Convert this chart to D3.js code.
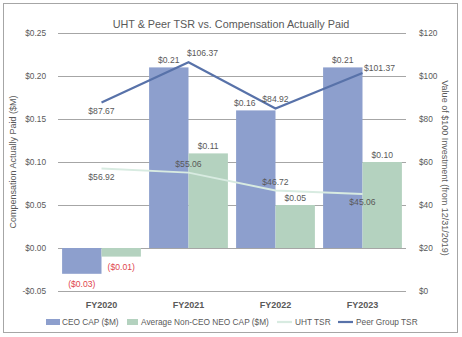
<!DOCTYPE html>
<html>
<head>
<meta charset="utf-8">
<script src="https://cdn.jsdelivr.net/npm/d3@7"></script>
<style>
  body { margin: 0; background: #fff; }
  text { font-family: "Liberation Sans", Arial, sans-serif; }
</style>
</head>
<body>
<div id="chart"></div>
<script>
const years = ["FY2020", "FY2021", "FY2022", "FY2023"];
const ceoCap = [-0.03, 0.21, 0.16, 0.21];
const neoCap = [-0.01, 0.11, 0.05, 0.10];
const uhtTsr = [56.92, 55.06, 46.72, 45.06];
const peerTsr = [87.67, 106.37, 84.92, 101.37];
const leftTicks = [-0.05, 0, 0.05, 0.10, 0.15, 0.20, 0.25];
const rightTicks = [0, 20, 40, 60, 80, 100, 120];

const W = 462, H = 337;
const m = { left: 58, right: 56, top: 33, bottom: 46 };
const txt = "#595959";

const svg = d3.select("#chart").append("svg")
  .attr("width", W).attr("height", H);

// border
svg.append("rect")
  .attr("x", 3.5).attr("y", 3.5).attr("width", 454).attr("height", 329)
  .attr("fill", "#fff").attr("stroke", "#a6a6a6").attr("stroke-width", 1);

const x = d3.scaleBand().domain(years).range([m.left, W - m.right]).paddingInner(0).paddingOuter(0);
const yL = d3.scaleLinear().domain([-0.05, 0.25]).range([H - m.bottom, m.top]);
const yR = d3.scaleLinear().domain([0, 120]).range([H - m.bottom, m.top]);
const fmtM = v => v < 0 ? "($" + Math.abs(v).toFixed(2) + ")" : "$" + v.toFixed(2);
const fmtL = v => (v < 0 ? "-$" : "$") + Math.abs(v).toFixed(2);

// gridlines
svg.append("g").selectAll("line").data(leftTicks).join("line")
  .attr("x1", m.left).attr("x2", W - m.right)
  .attr("y1", d => Math.round(yL(d)) + 0.5).attr("y2", d => Math.round(yL(d)) + 0.5)
  .attr("stroke", "#a6a6a6").attr("stroke-width", 1);

// left axis
const axL = svg.append("g").attr("transform", `translate(${m.left - 9},0)`)
  .call(d3.axisLeft(yL).tickValues(leftTicks).tickFormat(fmtL).tickSize(0));
axL.select(".domain").remove();
axL.selectAll("text").attr("fill", txt).style("font-size", "8.3px");

// right axis
const axR = svg.append("g").attr("transform", `translate(${W - m.right + 10},0)`)
  .call(d3.axisRight(yR).tickValues(rightTicks).tickFormat(d => "$" + d).tickSize(0));
axR.select(".domain").remove();
axR.selectAll("text").attr("fill", txt).style("font-size", "8.3px");

// category axis
const axB = svg.append("g").attr("transform", `translate(0,${H - m.bottom + 8})`)
  .call(d3.axisBottom(x).tickSize(0));
axB.select(".domain").remove();
axB.selectAll("text").attr("fill", txt).style("font-size", "9px").style("font-weight", "bold");

// bars
const inner = d3.scaleBand().domain(["ceo", "neo"]).range([0, x.bandwidth()]).paddingOuter(0.104).paddingInner(0);
const blue = "#8d9fcd", green = "#b4d2bf";
const rows = years.map((y, i) => ({ y, ceo: ceoCap[i], neo: neoCap[i] }));

const grp = svg.append("g").selectAll("g").data(rows).join("g")
  .attr("transform", d => `translate(${x(d.y)},0)`);
grp.append("rect").attr("x", inner("ceo")).attr("width", inner.bandwidth())
  .attr("y", d => yL(Math.max(0, d.ceo))).attr("height", d => Math.abs(yL(d.ceo) - yL(0)))
  .attr("fill", blue);
grp.append("rect").attr("x", inner("neo")).attr("width", inner.bandwidth())
  .attr("y", d => yL(Math.max(0, d.neo))).attr("height", d => Math.abs(yL(d.neo) - yL(0)))
  .attr("fill", green);

// bar labels
const ceoDx = [0, 0, -11, 0];
grp.append("text")
  .attr("x", (d, i) => inner("ceo") + inner.bandwidth() / 2 + ceoDx[i])
  .attr("y", d => d.ceo < 0 ? yL(d.ceo) + 13 : yL(d.ceo) - 4)
  .attr("text-anchor", "middle").style("font-size", "8.6px")
  .attr("fill", d => d.ceo < 0 ? "#e0464e" : txt)
  .text(d => fmtM(d.ceo));
grp.append("text")
  .attr("x", inner("neo") + inner.bandwidth() / 2)
  .attr("y", d => d.neo < 0 ? yL(d.neo) + 13 : yL(d.neo) - 4)
  .attr("text-anchor", "middle").style("font-size", "8.6px")
  .attr("fill", d => d.neo < 0 ? "#e0464e" : txt)
  .text(d => fmtM(d.neo));

// lines
const cx = d => x(d) + x.bandwidth() / 2;
const line = d3.line().x((d, i) => cx(years[i])).y(d => yR(d));
svg.append("path").datum(uhtTsr).attr("d", line)
  .attr("fill", "none").attr("stroke", "#d8ebe1").attr("stroke-width", 2);
svg.append("path").datum(peerTsr).attr("d", line)
  .attr("fill", "none").attr("stroke", "#5872a9").attr("stroke-width", 2.2);

// line labels
const uhtOff = [[0, 11], [0, -6], [0, -6], [0, 11]];
const peerOff = [[0, 11], [14, -6], [0, -6], [17, -2]];
svg.append("g").selectAll("text").data(uhtTsr).join("text")
  .attr("x", (d, i) => cx(years[i]) + uhtOff[i][0])
  .attr("y", (d, i) => yR(d) + uhtOff[i][1])
  .attr("text-anchor", "middle").style("font-size", "8.6px").attr("fill", txt)
  .text(d => "$" + d.toFixed(2));
svg.append("g").selectAll("text").data(peerTsr).join("text")
  .attr("x", (d, i) => cx(years[i]) + peerOff[i][0])
  .attr("y", (d, i) => yR(d) + peerOff[i][1])
  .attr("text-anchor", "middle").style("font-size", "8.6px").attr("fill", txt)
  .text(d => "$" + d.toFixed(2));

// title
svg.append("text").attr("x", 231).attr("y", 28).attr("text-anchor", "middle")
  .style("font-size", "10.8px").attr("fill", txt)
  .text("UHT & Peer TSR vs. Compensation Actually Paid");

// axis titles
svg.append("text").attr("transform", `translate(16,162) rotate(-90)`)
  .attr("text-anchor", "middle").style("font-size", "9px").attr("fill", txt)
  .text("Compensation Actually Paid ($M)");
svg.append("text").attr("transform", `translate(442,168) rotate(90)`)
  .attr("text-anchor", "middle").style("font-size", "9px").attr("fill", txt)
  .text("Value of $100 Investment (from 12/31/2019)");

// legend
const legend = [
  { label: "CEO CAP ($M)", type: "rect", color: blue, x: 46 },
  { label: "Average Non-CEO NEO CAP ($M)", type: "rect", color: green, x: 127 },
  { label: "UHT TSR", type: "line", color: "#d8ebe1", x: 277 },
  { label: "Peer Group TSR", type: "line", color: "#5872a9", x: 338 }
];
const lg = svg.append("g").selectAll("g").data(legend).join("g")
  .attr("transform", d => `translate(${d.x},322)`);
lg.filter(d => d.type === "rect").append("rect")
  .attr("x", 0).attr("y", -3).attr("width", d => d.x < 100 ? 14 : 11).attr("height", 6).attr("fill", d => d.color);
lg.filter(d => d.type === "line").append("line")
  .attr("x1", 0).attr("x2", 15).attr("y1", 0).attr("y2", 0)
  .attr("stroke", d => d.color).attr("stroke-width", 2.2);
lg.append("text").attr("x", d => d.type === "rect" ? (d.x < 100 ? 16 : 14) : 18).attr("y", 3)
  .style("font-size", "8.3px").attr("fill", txt).text(d => d.label);
</script>
</body>
</html>
